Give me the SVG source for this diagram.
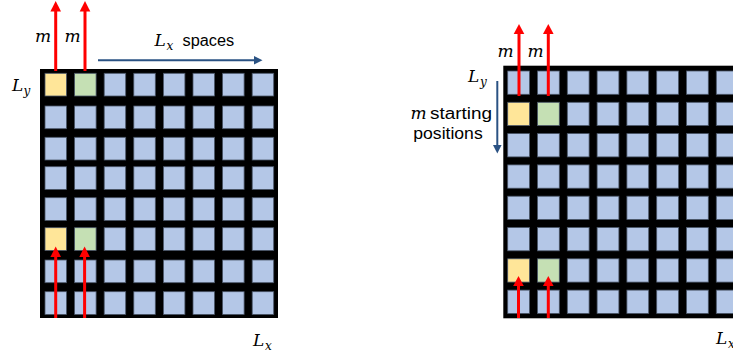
<svg xmlns="http://www.w3.org/2000/svg" width="733" height="353" viewBox="0 0 733 353">
<style>
.bg{fill:#000}
.c{fill:#B4C7E7;stroke:#4A5668;stroke-width:0.8}
.y{fill:#FFE699;stroke:#4A5668;stroke-width:0.8}
.g{fill:#C5E0B4;stroke:#4A5668;stroke-width:0.8}
.red{stroke:#FF0000;stroke-width:3;fill:none}
.redh{fill:#FF0000}
.nav{stroke:#2A5283;stroke-width:2;fill:none}
.navh{fill:#2A5283}
.math{font-family:"DejaVu Serif","Liberation Serif",serif;font-style:italic;font-size:17px;fill:#000}
.sub{font-family:"DejaVu Serif","Liberation Serif",serif;font-style:italic;font-size:12px;fill:#000}
.sans{font-family:"Liberation Sans",Arial,sans-serif;font-size:16px;fill:#000}
</style>

<g id="grid-left">
<rect class="bg" x="40" y="69" width="238" height="249"/>
<g class="c">
<rect x="45" y="73.3" width="21.5" height="22.7" class="y"/><rect x="74.6" y="73.3" width="21.5" height="22.7" class="g"/><rect x="104.2" y="73.3" width="21.5" height="22.7"/><rect x="133.8" y="73.3" width="21.5" height="22.7"/><rect x="163.4" y="73.3" width="21.5" height="22.7"/><rect x="193" y="73.3" width="21.5" height="22.7"/><rect x="222.6" y="73.3" width="21.5" height="22.7"/><rect x="252.2" y="73.3" width="21.5" height="22.7"/>
<rect x="45" y="106" width="21.5" height="22.7"/><rect x="74.6" y="106" width="21.5" height="22.7"/><rect x="104.2" y="106" width="21.5" height="22.7"/><rect x="133.8" y="106" width="21.5" height="22.7"/><rect x="163.4" y="106" width="21.5" height="22.7"/><rect x="193" y="106" width="21.5" height="22.7"/><rect x="222.6" y="106" width="21.5" height="22.7"/><rect x="252.2" y="106" width="21.5" height="22.7"/>
<rect x="45" y="137.3" width="21.5" height="22.7"/><rect x="74.6" y="137.3" width="21.5" height="22.7"/><rect x="104.2" y="137.3" width="21.5" height="22.7"/><rect x="133.8" y="137.3" width="21.5" height="22.7"/><rect x="163.4" y="137.3" width="21.5" height="22.7"/><rect x="193" y="137.3" width="21.5" height="22.7"/><rect x="222.6" y="137.3" width="21.5" height="22.7"/><rect x="252.2" y="137.3" width="21.5" height="22.7"/>
<rect x="45" y="166.7" width="21.5" height="22.7"/><rect x="74.6" y="166.7" width="21.5" height="22.7"/><rect x="104.2" y="166.7" width="21.5" height="22.7"/><rect x="133.8" y="166.7" width="21.5" height="22.7"/><rect x="163.4" y="166.7" width="21.5" height="22.7"/><rect x="193" y="166.7" width="21.5" height="22.7"/><rect x="222.6" y="166.7" width="21.5" height="22.7"/><rect x="252.2" y="166.7" width="21.5" height="22.7"/>
<rect x="45" y="197.7" width="21.5" height="22.7"/><rect x="74.6" y="197.7" width="21.5" height="22.7"/><rect x="104.2" y="197.7" width="21.5" height="22.7"/><rect x="133.8" y="197.7" width="21.5" height="22.7"/><rect x="163.4" y="197.7" width="21.5" height="22.7"/><rect x="193" y="197.7" width="21.5" height="22.7"/><rect x="222.6" y="197.7" width="21.5" height="22.7"/><rect x="252.2" y="197.7" width="21.5" height="22.7"/>
<rect x="45" y="227.7" width="21.5" height="22.7" class="y"/><rect x="74.6" y="227.7" width="21.5" height="22.7" class="g"/><rect x="104.2" y="227.7" width="21.5" height="22.7"/><rect x="133.8" y="227.7" width="21.5" height="22.7"/><rect x="163.4" y="227.7" width="21.5" height="22.7"/><rect x="193" y="227.7" width="21.5" height="22.7"/><rect x="222.6" y="227.7" width="21.5" height="22.7"/><rect x="252.2" y="227.7" width="21.5" height="22.7"/>
<rect x="45" y="260" width="21.5" height="22.7"/><rect x="74.6" y="260" width="21.5" height="22.7"/><rect x="104.2" y="260" width="21.5" height="22.7"/><rect x="133.8" y="260" width="21.5" height="22.7"/><rect x="163.4" y="260" width="21.5" height="22.7"/><rect x="193" y="260" width="21.5" height="22.7"/><rect x="222.6" y="260" width="21.5" height="22.7"/><rect x="252.2" y="260" width="21.5" height="22.7"/>
<rect x="45" y="291.7" width="21.5" height="22.7"/><rect x="74.6" y="291.7" width="21.5" height="22.7"/><rect x="104.2" y="291.7" width="21.5" height="22.7"/><rect x="133.8" y="291.7" width="21.5" height="22.7"/><rect x="163.4" y="291.7" width="21.5" height="22.7"/><rect x="193" y="291.7" width="21.5" height="22.7"/><rect x="222.6" y="291.7" width="21.5" height="22.7"/><rect x="252.2" y="291.7" width="21.5" height="22.7"/>
</g>
</g>

<g id="grid-right">
<rect class="bg" x="503.3" y="65.7" width="240" height="252.6"/>
<g class="c">
<rect x="507.7" y="71" width="21.8" height="23.3"/><rect x="537.5" y="71" width="21.8" height="23.3"/><rect x="567.3" y="71" width="21.8" height="23.3"/><rect x="597.1" y="71" width="21.8" height="23.3"/><rect x="626.9" y="71" width="21.8" height="23.3"/><rect x="656.7" y="71" width="21.8" height="23.3"/><rect x="686.5" y="71" width="21.8" height="23.3"/><rect x="716.3" y="71" width="21.8" height="23.3"/>
<rect x="507.7" y="102.3" width="21.8" height="23.3" class="y"/><rect x="537.5" y="102.3" width="21.8" height="23.3" class="g"/><rect x="567.3" y="102.3" width="21.8" height="23.3"/><rect x="597.1" y="102.3" width="21.8" height="23.3"/><rect x="626.9" y="102.3" width="21.8" height="23.3"/><rect x="656.7" y="102.3" width="21.8" height="23.3"/><rect x="686.5" y="102.3" width="21.8" height="23.3"/><rect x="716.3" y="102.3" width="21.8" height="23.3"/>
<rect x="507.7" y="133.6" width="21.8" height="23.3"/><rect x="537.5" y="133.6" width="21.8" height="23.3"/><rect x="567.3" y="133.6" width="21.8" height="23.3"/><rect x="597.1" y="133.6" width="21.8" height="23.3"/><rect x="626.9" y="133.6" width="21.8" height="23.3"/><rect x="656.7" y="133.6" width="21.8" height="23.3"/><rect x="686.5" y="133.6" width="21.8" height="23.3"/><rect x="716.3" y="133.6" width="21.8" height="23.3"/>
<rect x="507.7" y="164.9" width="21.8" height="23.3"/><rect x="537.5" y="164.9" width="21.8" height="23.3"/><rect x="567.3" y="164.9" width="21.8" height="23.3"/><rect x="597.1" y="164.9" width="21.8" height="23.3"/><rect x="626.9" y="164.9" width="21.8" height="23.3"/><rect x="656.7" y="164.9" width="21.8" height="23.3"/><rect x="686.5" y="164.9" width="21.8" height="23.3"/><rect x="716.3" y="164.9" width="21.8" height="23.3"/>
<rect x="507.7" y="196.2" width="21.8" height="23.3"/><rect x="537.5" y="196.2" width="21.8" height="23.3"/><rect x="567.3" y="196.2" width="21.8" height="23.3"/><rect x="597.1" y="196.2" width="21.8" height="23.3"/><rect x="626.9" y="196.2" width="21.8" height="23.3"/><rect x="656.7" y="196.2" width="21.8" height="23.3"/><rect x="686.5" y="196.2" width="21.8" height="23.3"/><rect x="716.3" y="196.2" width="21.8" height="23.3"/>
<rect x="507.7" y="227.5" width="21.8" height="23.3"/><rect x="537.5" y="227.5" width="21.8" height="23.3"/><rect x="567.3" y="227.5" width="21.8" height="23.3"/><rect x="597.1" y="227.5" width="21.8" height="23.3"/><rect x="626.9" y="227.5" width="21.8" height="23.3"/><rect x="656.7" y="227.5" width="21.8" height="23.3"/><rect x="686.5" y="227.5" width="21.8" height="23.3"/><rect x="716.3" y="227.5" width="21.8" height="23.3"/>
<rect x="507.7" y="258.8" width="21.8" height="23.3" class="y"/><rect x="537.5" y="258.8" width="21.8" height="23.3" class="g"/><rect x="567.3" y="258.8" width="21.8" height="23.3"/><rect x="597.1" y="258.8" width="21.8" height="23.3"/><rect x="626.9" y="258.8" width="21.8" height="23.3"/><rect x="656.7" y="258.8" width="21.8" height="23.3"/><rect x="686.5" y="258.8" width="21.8" height="23.3"/><rect x="716.3" y="258.8" width="21.8" height="23.3"/>
<rect x="507.7" y="290.1" width="21.8" height="23.3"/><rect x="537.5" y="290.1" width="21.8" height="23.3"/><rect x="567.3" y="290.1" width="21.8" height="23.3"/><rect x="597.1" y="290.1" width="21.8" height="23.3"/><rect x="626.9" y="290.1" width="21.8" height="23.3"/><rect x="656.7" y="290.1" width="21.8" height="23.3"/><rect x="686.5" y="290.1" width="21.8" height="23.3"/><rect x="716.3" y="290.1" width="21.8" height="23.3"/>
</g>
</g>

<g id="connectors">
<line class="red" x1="55.7" y1="71" x2="55.7" y2="10"/><polygon class="redh" points="55.7,1 50.4,11.5 61,11.5"/>
<line class="red" x1="85" y1="71" x2="85" y2="10"/><polygon class="redh" points="85,1 79.7,11.5 90.3,11.5"/>
<line class="red" x1="55.7" y1="318" x2="55.7" y2="256"/><polygon class="redh" points="55.7,246.5 50.4,257 61,257"/>
<line class="red" x1="84.6" y1="318" x2="84.6" y2="256"/><polygon class="redh" points="84.6,246.5 79.3,257 89.9,257"/>
<line class="red" x1="519" y1="96" x2="519" y2="33"/><polygon class="redh" points="519,24 513.7,34 524.3,34"/>
<line class="red" x1="548.3" y1="96" x2="548.3" y2="33"/><polygon class="redh" points="548.3,24 543,34 553.6,34"/>
<line class="red" x1="518.5" y1="318" x2="518.5" y2="285"/><polygon class="redh" points="518.5,276 513.2,286 523.8,286"/>
<line class="red" x1="548.3" y1="318" x2="548.3" y2="285"/><polygon class="redh" points="548.3,276 543,286 553.6,286"/>
<line class="nav" x1="98" y1="60.3" x2="255" y2="60.3"/><polygon class="navh" points="262.5,60.3 254,56 254,64.6"/>
<line class="nav" x1="497.3" y1="81" x2="497.3" y2="146"/><polygon class="navh" points="497.3,153.5 493,145 501.6,145"/>
</g>

<g id="labels">
<text class="math" x="35" y="42">m</text>
<text class="math" x="64.5" y="42">m</text>
<text class="math" x="154.5" y="46">L</text><text class="sub" x="166.5" y="50">x</text>
<text class="sans" x="182.5" y="46" textLength="51.6" lengthAdjust="spacingAndGlyphs">spaces</text>
<text class="math" x="12" y="91">L</text><text class="sub" x="23.5" y="95">y</text>
<text class="math" x="253" y="346">L</text><text class="sub" x="265" y="350">x</text>
<text class="math" x="497.5" y="57">m</text>
<text class="math" x="527.5" y="57">m</text>
<text class="math" x="468" y="82">L</text><text class="sub" x="480" y="86">y</text>
<text class="math" x="410.5" y="118.5">m</text>
<text class="sans" x="430" y="118.5" textLength="62" lengthAdjust="spacingAndGlyphs">starting</text>
<text class="sans" x="413.3" y="139" textLength="69.4" lengthAdjust="spacingAndGlyphs">positions</text>
<text class="math" x="716" y="344">L</text><text class="sub" x="728" y="348">x</text>
</g>
</svg>
